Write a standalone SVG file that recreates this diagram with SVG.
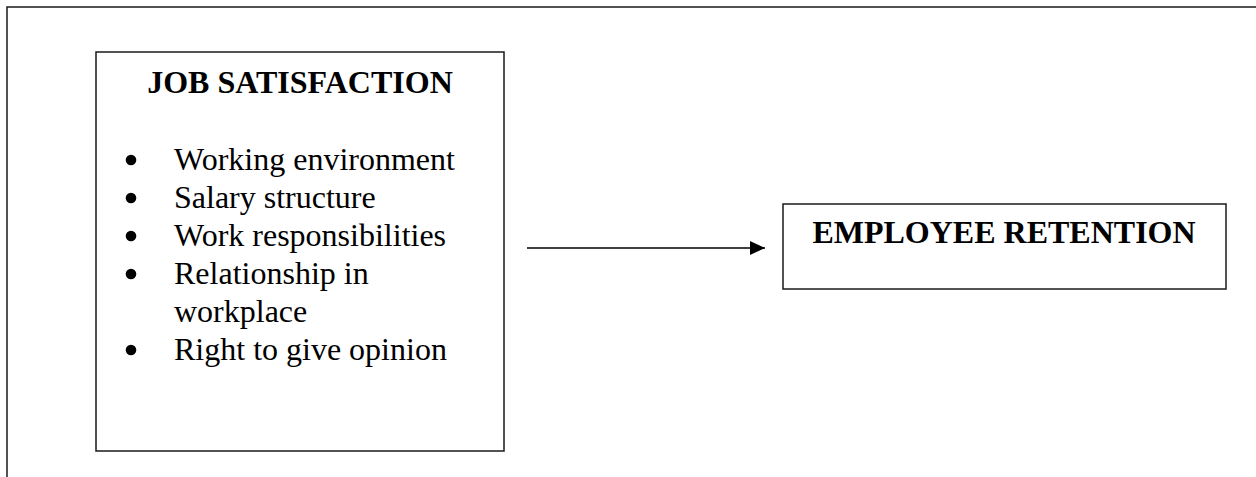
<svg xmlns="http://www.w3.org/2000/svg" width="1256" height="477" viewBox="0 0 1256 477">
<style>
.box{fill:#fff;stroke:#1a1a1a;stroke-width:1.5}
.frame{fill:none;stroke:#1a1a1a;stroke-width:1.5}
.title{font-family:"Liberation Serif","Times New Roman",serif;font-size:32px;font-weight:bold;fill:#000}
.item{font-family:"Liberation Serif","Times New Roman",serif;font-size:32px;fill:#000}
.bullet{fill:#000}
.conn{stroke:#000;stroke-width:1.5;fill:none}
</style>
<defs>
<marker id="arr" markerWidth="15" markerHeight="14" refX="15" refY="7" orient="auto" markerUnits="userSpaceOnUse">
<path d="M0,0 L15,7 L0,14 Z" fill="#000"/>
</marker>
</defs>
<rect width="1256" height="477" fill="#fff"/>
<path class="frame" d="M7,477 L7,7 L1256,7"/>
<g id="job-satisfaction">
<rect class="box" x="96" y="52" width="408" height="399"/>
<text class="title" x="300" y="93" text-anchor="middle">JOB SATISFACTION</text>
<circle class="bullet" cx="131" cy="160" r="5.3"/><text class="item" x="174" y="170">Working environment</text>
<circle class="bullet" cx="131" cy="198" r="5.3"/><text class="item" x="174" y="208">Salary structure</text>
<circle class="bullet" cx="131" cy="236" r="5.3"/><text class="item" x="174" y="246">Work responsibilities</text>
<circle class="bullet" cx="131" cy="274" r="5.3"/><text class="item" x="174" y="284">Relationship in</text>
<text class="item" x="174" y="322">workplace</text>
<circle class="bullet" cx="131" cy="350" r="5.3"/><text class="item" x="174" y="360">Right to give opinion</text>
</g>
<g id="employee-retention">
<rect class="box" x="783" y="204" width="443" height="85"/>
<text class="title" x="1004" y="243" text-anchor="middle">EMPLOYEE RETENTION</text>
</g>
<g id="connectors">
<line class="conn" x1="527" y1="248" x2="765" y2="248" marker-end="url(#arr)"/>
</g>
</svg>
